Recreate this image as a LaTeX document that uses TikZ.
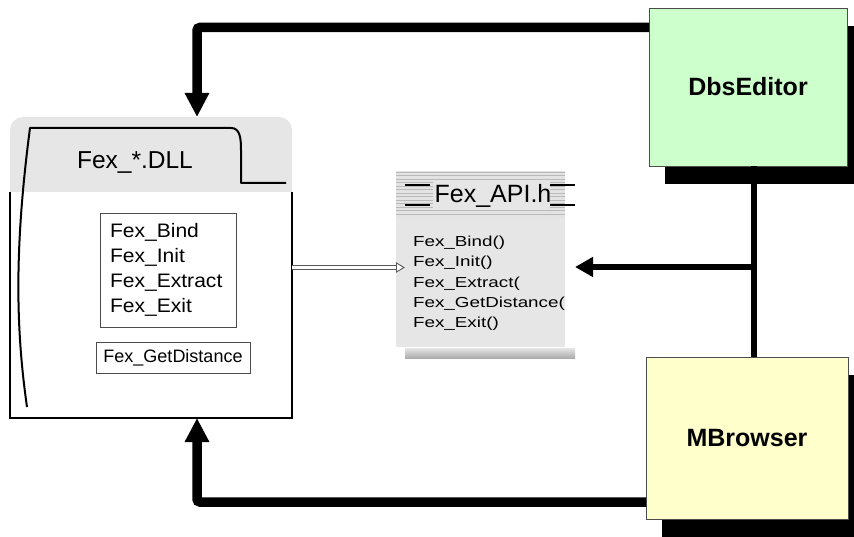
\documentclass[tikz,border=0pt]{standalone}
\usepackage{fontspec}
\setmainfont{Liberation Sans}
\newfontfamily\widefont[FakeStretch=1.3]{Liberation Sans}
\newfontfamily\midfont[FakeStretch=1.08]{Liberation Sans}
\usetikzlibrary{arrows.meta,shadows}
\definecolor{boxgreen}{HTML}{CCFFCC}
\definecolor{boxyellow}{HTML}{FFFFCC}
\definecolor{panelgray}{HTML}{E6E6E6}
\begin{document}
\begin{tikzpicture}[x=1pt,y=-1pt,
  every node/.style={inner sep=0pt, outer sep=0pt},
  appbox/.style={draw=black!70, line width=0.8pt,
    font=\fontsize{25}{30}\selectfont\bfseries,
    general shadow={fill=black, shadow xshift=16pt, shadow yshift=-18pt}},
  thinbox/.style={draw=black!70, line width=0.8pt},
  bigarrow/.style={line width=9.5pt, rounded corners=3pt, -{Triangle[length=24pt,width=23pt]}},
  midarrow/.style={line width=6.5pt, -{Triangle[length=18pt,width=19pt]}},
  hollowline/.style={draw=black!65, line width=1.2pt, double=white, double distance=2.5pt},
  hollowtip/.style={draw=black!65, line width=0.9pt, fill=white, line join=miter},
  outline/.style={line width=2pt, line join=round}
]
\useasboundingbox (0,0) rectangle (854,537);

% ---- Fex_*.DLL ----
\node[minimum width=282pt, minimum height=301pt] (dll) at (151,267.5) {};
\fill[panelgray, rounded corners=13pt] (10,117) rectangle (292,240);
\fill[white] (10,192) rectangle (292,418);
\draw[line width=2.5pt] (10,192) -- (10,418) -- (292,418) -- (292,192);
\draw[outline] (27,407) .. controls (16,330) and (14,250) .. (30,128)
  -- (231,128) .. controls (240,128) and (241,138) .. (241,150)
  -- (241,183) -- (286,183);
\node[font=\fontsize{24.5}{29}\selectfont] (dlltitle) at (135,163) {Fex\_*.DLL};
\node[thinbox, text width=116pt, inner xsep=10pt, minimum height=114pt,
  align=left, font=\midfont\fontsize{19.5}{25}\selectfont] (funcs) at (168,270)
  {Fex\_Bind\\Fex\_Init\\Fex\_Extract\\Fex\_Exit};
\node[thinbox, minimum width=154pt, minimum height=31pt,
  font=\fontsize{18}{22}\selectfont] (getdist) at (173,357.5) {Fex\_GetDistance};

% ---- Fex_API.h ----
\node[minimum width=180pt, minimum height=187pt] (api) at (485,264.5) {};
\fill[gray!22] (396,171) rectangle (565,218);
\foreach \yy in {172.5,176,...,217} \draw[gray!55, line width=1pt] (396,\yy) -- (565,\yy);
\fill[panelgray] (433,180) rectangle (550,210);
\draw[line width=2pt] (405,185) -- (430,185) (405,205) -- (430,205)
  (550,185) -- (575,185) (550,205) -- (575,205);
\node[font=\fontsize{25}{30}\selectfont] (apititle) at (493,196) {Fex\_API.h};
\fill[panelgray] (396,218) rectangle (565,347);
\node[anchor=north west, align=left, font=\widefont\fontsize{14.5}{20.25}\selectfont]
  (apilist) at (413,236) {Fex\_Bind()\\Fex\_Init()\\Fex\_Extract(\\Fex\_GetDistance(\\Fex\_Exit()};
\shade[top color=gray!20, bottom color=gray!65] (405,348) rectangle (575,358);

% ---- applications ----
\node[appbox, fill=boxgreen, minimum width=198pt, minimum height=158pt] (dbs) at (748,87) {DbsEditor};
\node[appbox, fill=boxyellow, minimum width=202pt, minimum height=162pt] (mb) at (747,438) {MBrowser};

% ---- connectors ----
\draw[bigarrow] ([yshift=-19.5pt]dbs.north west) -| ([xshift=187pt]dll.north west);
\draw[bigarrow] ([yshift=17pt]mb.south west) -| ([xshift=187pt]dll.south west);
\draw[line width=6pt] ([xshift=6pt]dbs.south) -- ([xshift=7pt]mb.north);
\coordinate (j) at (754,267);
\draw[midarrow] (j) -- (api.east |- j);
\coordinate (tipend) at ([xshift=9pt]api.west |- dll.east);
\draw[hollowline] (dll.east) -- ([xshift=-6pt]tipend);
\draw[hollowtip] (tipend) -- ++(-7.5,-4.5) -- ++(0,9) -- cycle;
\end{tikzpicture}
\end{document}
